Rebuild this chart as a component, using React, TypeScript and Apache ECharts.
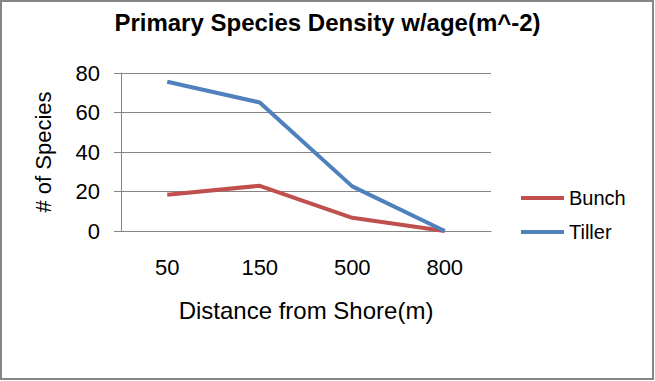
import React, { useEffect, useRef } from "react";
import * as echarts from "echarts";

const categories = ["50", "150", "500", "800"];
const bunch = [18.4, 22.9, 6.7, 0];
const tiller = [75.6, 65.1, 22.6, 0];
const seriesNames = ["Bunch", "Tiller"];

const FONT = "'Liberation Sans', Arial, sans-serif";
const GRID_COLOR = "#868686";

export default function App() {
  const ref = useRef<HTMLDivElement>(null);
  useEffect(() => {
    document.body.style.margin = "0";
    const chart = echarts.init(ref.current!, null, { renderer: "svg" });
    chart.setOption({
      animation: false,
      backgroundColor: "#ffffff",
      textStyle: { fontFamily: FONT },
      title: {
        text: "Primary Species Density w/age(m^-2)",
        left: "center",
        top: 10,
        padding: 0,
        textStyle: { fontFamily: FONT, fontSize: 24, fontWeight: "bold", color: "#000" },
      },
      grid: { left: 121, right: 164, top: 73, bottom: 150, containLabel: false },
      legend: {
        orient: "vertical",
        left: 521,
        top: 187,
        padding: 0,
        itemWidth: 43,
        itemHeight: 4,
        itemGap: 12,
        icon: "rect",
        data: seriesNames,
        textStyle: { fontFamily: FONT, fontSize: 20, color: "#000", lineHeight: 22 },
      },
      xAxis: {
        type: "category",
        data: categories,
        boundaryGap: true,
        axisLine: { show: true, lineStyle: { color: GRID_COLOR, width: 1 } },
        axisTick: { show: false },
        axisLabel: { fontFamily: FONT, fontSize: 22, color: "#000", margin: 25 },
        name: "Distance from Shore(m)",
        nameLocation: "middle",
        nameGap: 67,
        nameTextStyle: { fontFamily: FONT, fontSize: 24, color: "#000" },
      },
      yAxis: {
        type: "value",
        min: 0,
        max: 80,
        interval: 20,
        axisLine: { show: true, lineStyle: { color: GRID_COLOR, width: 1 } },
        axisTick: { show: true, length: 7, lineStyle: { color: GRID_COLOR } },
        splitLine: { show: true, lineStyle: { color: GRID_COLOR, width: 1 } },
        axisLabel: { fontFamily: FONT, fontSize: 22, color: "#000", margin: 21 },
        name: "# of Species",
        nameLocation: "middle",
        nameGap: 67,
        nameTextStyle: { fontFamily: FONT, fontSize: 22, color: "#000" },
      },
      series: [
        {
          name: seriesNames[0],
          type: "line",
          data: bunch,
          symbol: "none",
          lineStyle: { width: 4, color: "#C0504D" },
          itemStyle: { color: "#C0504D" },
        },
        {
          name: seriesNames[1],
          type: "line",
          data: tiller,
          symbol: "none",
          lineStyle: { width: 4, color: "#4F81BD" },
          itemStyle: { color: "#4F81BD" },
        },
      ],
      graphic: [
        {
          type: "rect",
          shape: { x: 1, y: 1, width: 652, height: 378 },
          style: { fill: "none", stroke: "#868686", lineWidth: 2 },
          silent: true,
        },
      ],
    });
    return () => chart.dispose();
  }, []);
  return <div ref={ref} style={{ width: 655, height: 381 }} />;
}
